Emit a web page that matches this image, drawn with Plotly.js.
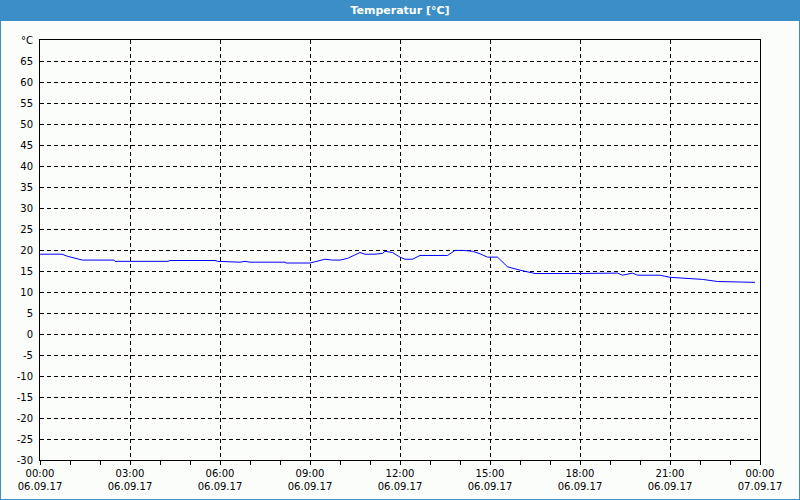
<!DOCTYPE html>
<html>
<head>
<meta charset="utf-8">
<script src="https://cdn.plot.ly/plotly-3.0.1.min.js"></script>
<style>html,body{margin:0;padding:0;background:#fbfdfb;}#chart{width:800px;height:500px;}</style>
</head>
<body>
<div id="chart"></div>
<script>
const times = ["00:00","00:44","00:55","01:10","01:25","02:28","02:30","04:16","04:20","05:50","05:55","06:40","06:50","07:00","08:10","08:12","09:00","09:30","09:45","10:00","10:15","10:40","10:50","11:10","11:25","11:30","11:45","12:00","12:10","12:25","12:40","13:35","13:50","14:05","14:25","14:40","14:55","15:15","15:25","15:35","16:00","16:20","16:30","17:50","18:30","19:15","19:25","19:45","19:55","20:40","21:00","21:30","22:05","22:35","23:15","23:50"];
const temps = [19.0,19.0,18.5,18.1,17.6,17.6,17.3,17.3,17.5,17.5,17.3,17.1,17.3,17.1,17.1,16.9,16.9,17.8,17.6,17.6,18.0,19.4,19.0,19.0,19.2,19.7,19.4,18.3,17.8,17.8,18.7,18.7,19.9,19.9,19.7,19.1,18.3,18.3,17.2,16.0,15.2,14.7,14.4,14.4,14.5,14.5,14.0,14.5,14.0,14.0,13.5,13.2,13.0,12.5,12.3,12.3];
const xTickVals = ["2017-09-06 00:00","2017-09-06 03:00","2017-09-06 06:00","2017-09-06 09:00","2017-09-06 12:00","2017-09-06 15:00","2017-09-06 18:00","2017-09-06 21:00","2017-09-07 00:00"];
const xTickText = ["00:00<br>06.09.17","03:00<br>06.09.17","06:00<br>06.09.17","09:00<br>06.09.17","12:00<br>06.09.17","15:00<br>06.09.17","18:00<br>06.09.17","21:00<br>06.09.17","00:00<br>07.09.17"];
const yTickVals = [-30,-25,-20,-15,-10,-5,0,5,10,15,20,25,30,35,40,45,50,55,60,65,70];
const yTickText = ["-30","-25","-20","-15","-10","-5","0","5","10","15","20","25","30","35","40","45","50","55","60","65","°C"];
const titleText = "Temperatur [°C]";

const xs = times.map(t => "2017-09-06 " + t);
const blue = "#3b8fc6";
const font = {family: "DejaVu Sans, Verdana, sans-serif", size: 10, color: "#000"};

Plotly.newPlot("chart", [{
  x: xs, y: temps, type: "scatter", mode: "lines",
  line: {color: "#0000ff", width: 1}, hoverinfo: "skip"
}], {
  width: 800, height: 500,
  margin: {l: 40, r: 40, t: 40, b: 40},
  paper_bgcolor: "#fbfdfb", plot_bgcolor: "#fbfdfb",
  showlegend: false,
  font: font,
  title: {text: titleText, x: 0.5, xanchor: "center", y: 1 - 10/500, yanchor: "middle",
          yref: "container", font: {family: "DejaVu Sans, Verdana, sans-serif", size: 11, color: "#ffffff", weight: "bold"}},
  xaxis: {
    type: "date", range: ["2017-09-06 00:00", "2017-09-07 00:00"],
    tickmode: "array", tickvals: xTickVals, ticktext: xTickText,
    ticks: "outside", ticklen: 4, tickcolor: "#000", tickwidth: 1,
    minor: {dtick: 3600000, ticks: "outside", ticklen: 4, tickcolor: "#000", showgrid: false},
    showgrid: true, gridcolor: "#000", gridwidth: 1, griddash: "4px,3px",
    showline: true, linecolor: "#000", linewidth: 1, mirror: true,
    zeroline: false, tickfont: font, fixedrange: true
  },
  yaxis: {
    range: [-30, 70], tickmode: "array", tickvals: yTickVals, ticktext: yTickText,
    ticks: "", ticklabelstandoff: 4,
    showgrid: true, gridcolor: "#000", gridwidth: 1, griddash: "4px,3px",
    showline: true, linecolor: "#000", linewidth: 1, mirror: true,
    zeroline: false, tickfont: font, fixedrange: true
  },
  shapes: [
    {type: "rect", xref: "paper", yref: "paper", x0: -40/720, x1: 840/720, y0: 439/420, y1: 470/420, fillcolor: blue, line: {width: 0}, layer: "below"},
    {type: "line", xref: "paper", yref: "paper", x0: -39.5/720, x1: -39.5/720, y0: -40/420, y1: 460/420, line: {color: blue, width: 1}},
    {type: "line", xref: "paper", yref: "paper", x0: 759.5/720, x1: 759.5/720, y0: -40/420, y1: 460/420, line: {color: blue, width: 1}},
    {type: "line", xref: "paper", yref: "paper", x0: -40/720, x1: 760/720, y0: -39.5/420, y1: -39.5/420, line: {color: blue, width: 1}}
  ]
}, {staticPlot: true});
</script>
</body>
</html>
